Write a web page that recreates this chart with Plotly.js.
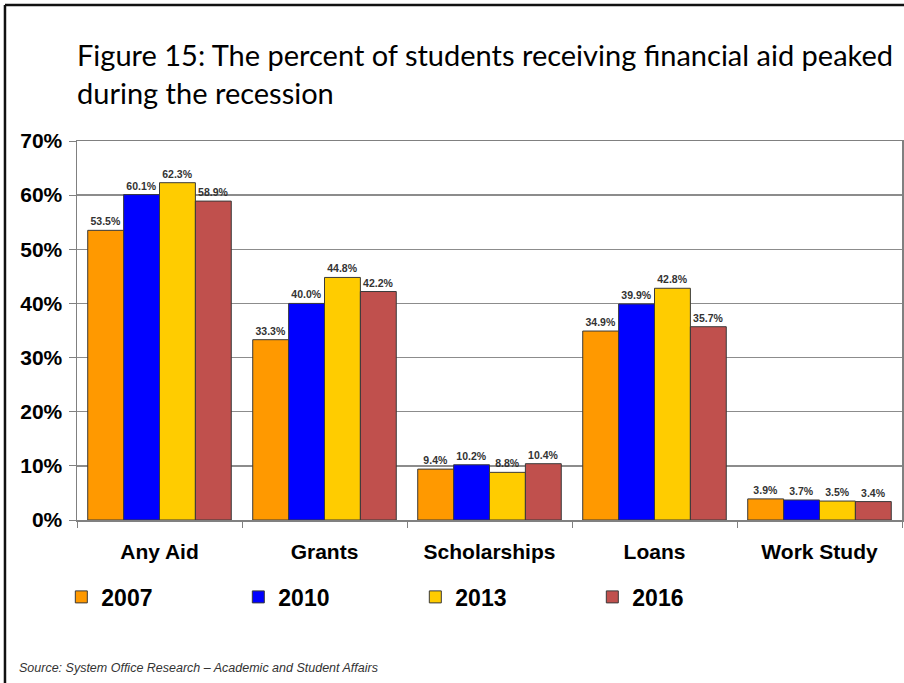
<!DOCTYPE html>
<html>
<head>
<meta charset="utf-8">
<script src="https://cdn.plot.ly/plotly-3.0.1.min.js"></script>
<style>html,body{margin:0;padding:0;background:#fff;}#chart{width:904px;height:683px;}</style>
</head>
<body>
<div id="chart"></div>
<script>
const categories = ["Any Aid", "Grants", "Scholarships", "Loans", "Work Study"];
const years = ["2007", "2010", "2013", "2016"];
const v2007 = [53.5, 33.3, 9.4, 34.9, 3.9];
const v2010 = [60.1, 40.0, 10.2, 39.9, 3.7];
const v2013 = [62.3, 44.8, 8.8, 42.8, 3.5];
const v2016 = [58.9, 42.2, 10.4, 35.7, 3.4];
const yTicks = [0, 10, 20, 30, 40, 50, 60, 70];
const titleLines = ["Figure 15: The percent of students receiving financial aid peaked", "during the recession"];
const sourceText = "Source: System Office Research \u2013 Academic and Student Affairs";

const colors = ["#FF9900", "#0000FF", "#FFCC00", "#C0504D"];
const series = [v2007, v2010, v2013, v2016];

const traces = series.map((vals, i) => ({
  type: "bar",
  name: years[i],
  x: categories,
  y: vals,
  marker: {color: colors[i], line: {color: "#3a3a3a", width: 1}},
  text: vals.map(v => v.toFixed(1) + "%"),
  textposition: "outside",
  cliponaxis: false,
  textfont: {family: "Liberation Sans, Arial, sans-serif", size: 10.5, color: "#333", weight: "bold"},
  hoverinfo: "skip"
}));

const layout = {
  width: 904, height: 683,
  margin: {l: 77, r: 2, t: 141, b: 163, autoexpand: false},
  paper_bgcolor: "#fff", plot_bgcolor: "#fff",
  barmode: "group",
  bargap: 0.13, bargroupgap: 0,
  showlegend: true,
  legend: {
    orientation: "h", x: -0.019, xanchor: "left", y: -0.203, yanchor: "middle",
    xref: "paper", yref: "paper",
    entrywidth: 132, entrywidthmode: "pixels",
    font: {family: "Liberation Sans Narrow, Arial Narrow, Liberation Sans, sans-serif", size: 23, color: "#000", weight: "bold"},
    itemwidth: 30, bgcolor: "rgba(0,0,0,0)"
  },
  xaxis: {
    type: "category",
    tickson: "boundaries", ticks: "outside", ticklen: 6, tickcolor: "#808080",
    showline: true, linecolor: "#808080", linewidth: 1.5, mirror: true,
    tickfont: {family: "Liberation Sans, Arial, sans-serif", size: 21, color: "#000", weight: "bold"},
    ticklabelstandoff: 12,
    showgrid: false
  },
  yaxis: {
    range: [0, 70], tickvals: yTicks, ticktext: yTicks.map(t => t + "%"),
    ticks: "outside", ticklen: 7, tickcolor: "#808080",
    showline: true, linecolor: "#808080", linewidth: 1.5, mirror: true,
    showgrid: true, gridcolor: "#8c8c8c", gridwidth: 1.5,
    zeroline: false,
    tickfont: {family: "Liberation Sans, Arial, sans-serif", size: 21, color: "#000", weight: "bold"},
    ticklabelstandoff: 2
  },
  annotations: [
    {text: titleLines[0], xref: "paper", yref: "paper", x: -0.003, y: 1.227, xanchor: "left", yanchor: "middle", showarrow: false,
     font: {family: "Lato, Noto Sans, sans-serif", size: 29, color: "#000"}},
    {text: titleLines[1], xref: "paper", yref: "paper", x: -0.003, y: 1.127, xanchor: "left", yanchor: "middle", showarrow: false,
     font: {family: "Lato, Noto Sans, sans-serif", size: 29, color: "#000"}},
    {text: "<i>" + sourceText + "</i>", xref: "paper", yref: "paper", x: -0.0727, y: -0.3905, xanchor: "left", yanchor: "middle", showarrow: false,
     font: {family: "Liberation Sans, Arial, sans-serif", size: 12.5, color: "#333"}}
  ],
  shapes: [
    {type: "line", xref: "paper", yref: "paper", x0: -0.0873, x1: -0.0873, y0: 1.359, y1: -0.45, line: {color: "#111", width: 2.5}},
    {type: "line", xref: "paper", yref: "paper", x0: -0.0873, x1: 1.01, y0: 1.359, y1: 1.359, line: {color: "#111", width: 2.5}}
  ]
};

Plotly.newPlot("chart", traces, layout, {displayModeBar: false, staticPlot: true});
</script>
</body>
</html>
